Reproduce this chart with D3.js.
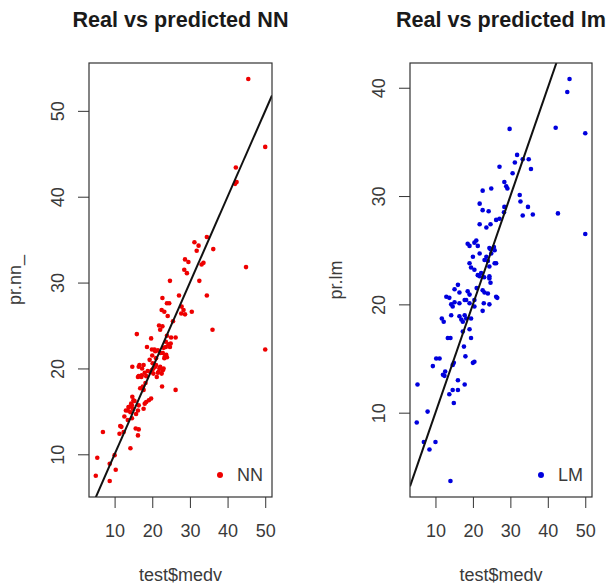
<!DOCTYPE html>
<html>
<head>
<meta charset="utf-8">
<script src="https://cdn.jsdelivr.net/npm/d3@7"></script>
<style>
  html, body { margin: 0; padding: 0; background: #fff; }
  svg { display: block; font-family: "Liberation Sans", Arial, sans-serif; }
</style>
</head>
<body>
<svg id="chart" width="609" height="587"></svg>
<script>
// ---- Data ----
const xTicks = [10, 20, 30, 40, 50];
const nnYTicks = [10, 20, 30, 40, 50];
const lmYTicks = [10, 20, 30, 40];

// Panel 1: test$medv vs pr.nn_
const nnActual = [45.5,50.0,42.2,42.4,42.0,34.5,31.2,32.3,36.2,31.8,28.7,29.6,33.1,33.6,28.5,29.2,44.9,24.7,32.5,34.5,
  27.1,22.7,23.9,24.5,22.5,23.2,27.8,28.3,27.7,28.7,30.5,24.1,21.8,22.1,22.7,36.0,15.9,19.7,26.2,25.0,
  23.9,23.6,24.7,23.6,24.9,18.6,50.0,20.6,21.5,22.8,23.7,23.9,23.2,19.9,20.8,22.1,23.0,24.3,23.4,19.3,
  20.1,21.0,21.9,20.3,19.7,18.8,21.5,22.8,19.9,20.8,21.7,22.1,20.3,21.2,23.0,22.5,19.5,14.7,16.6,17.3,
  16.4,17.7,16.2,17.1,18.4,16.4,17.2,17.5,18.2,17.7,16.8,22.6,26.2,19.7,19.1,18.4,14.7,15.3,14.4,13.8,
  13.5,14.8,16.2,15.7,18.0,17.7,15.0,16.4,12.6,13.5,14.6,13.0,13.7,14.6,14.2,11.8,12.4,11.3,11.5,6.9,
  15.6,16.2,16.4,14.2,5.4,8.7,10.3,5.0,8.7,10.0,21.0,18.0,20.0,25.5];
const nnPred = [53.7,45.8,43.4,41.7,41.5,35.3,34.7,34.3,33.9,33.7,32.7,32.4,32.1,32.3,31.5,31.1,31.8,30.2,30.2,28.5,
  28.5,28.2,27.6,27.6,26.8,26.6,27.2,26.8,26.4,26.3,26.6,26.1,25.0,24.5,24.9,24.5,24.0,23.5,23.6,23.6,
  23.8,23.1,22.5,22.5,22.9,22.5,22.2,22.2,22.1,21.8,21.6,21.3,21.2,22.2,22.0,21.8,22.4,22.8,21.4,21.0,
  20.6,20.4,20.0,20.0,19.6,19.7,19.5,19.8,19.8,20.2,19.6,20.2,19.4,19.0,20.0,19.4,19.6,20.2,20.4,20.0,
  20.2,20.4,19.0,19.0,19.1,19.1,19.2,17.9,18.3,17.5,17.7,17.9,17.5,16.5,16.3,16.1,16.7,16.2,15.9,15.5,
  15.1,15.3,15.1,14.7,15.9,15.3,16.3,15.7,14.4,14.0,14.2,15.1,15.5,15.7,14.9,13.2,12.6,12.4,13.3,12.6,
  13.0,12.2,12.9,10.7,9.6,8.9,8.2,7.5,6.9,9.9,21.2,19.5,21.5,25.5];

// Panel 2: test$medv vs pr.lm
const lmActual = [45.8,45.2,29.8,42.1,50.0,31.8,33.3,31.2,30.6,27.1,35.5,34.9,28.4,28.9,29.2,22.6,24.9,32.5,32.7,34.7,
  36.0,33.3,42.7,21.8,22.6,24.2,28.4,28.3,27.1,26.2,21.8,23.6,24.7,50.0,18.6,20.9,21.3,24.4,25.6,20.4,
  19.1,24.7,25.8,24.9,21.8,20.0,23.6,23.1,24.0,25.8,24.4,19.1,19.5,20.4,21.3,21.8,22.2,24.4,24.7,26.2,
  24.4,16.0,15.1,16.4,18.6,19.1,22.6,23.1,24.0,12.9,13.7,15.1,16.4,18.2,19.1,20.4,24.4,26.2,26.5,17.8,
  20.4,22.9,14.2,14.6,11.7,12.2,14.2,16.4,16.9,17.3,19.5,22.6,17.8,18.2,13.3,14.0,17.3,19.1,19.5,17.6,
  18.0,10.2,11.1,9.3,14.9,14.6,20.4,20.0,12.0,12.4,16.0,17.8,5.2,13.7,14.6,14.9,16.0,7.9,5.0,6.9,
  10.0,8.4,14.0,12.6,23.0,21.0];
const lmPred = [40.8,39.6,36.2,36.3,35.8,33.8,33.4,33.1,32.1,32.7,32.5,33.4,31.3,30.9,30.7,30.5,30.7,30.1,29.5,29.0,
  28.3,28.2,28.4,29.3,28.7,28.6,29.0,28.5,27.9,27.8,27.4,27.1,27.4,26.5,25.6,25.9,25.4,25.2,25.3,25.7,
  25.4,25.1,25.0,24.7,24.7,24.4,24.4,24.1,24.0,23.8,23.5,23.8,23.4,23.2,22.7,22.6,22.9,22.4,22.0,23.8,
  22.6,21.8,21.4,21.1,21.2,20.9,21.3,21.1,21.0,20.7,20.6,20.2,20.1,20.4,20.1,19.8,20.0,20.7,20.6,20.4,
  20.4,20.1,20.0,19.8,18.7,18.4,19.0,18.9,18.6,18.4,18.7,19.4,19.0,18.7,16.9,16.9,17.5,17.7,16.9,16.1,
  15.2,15.0,15.0,14.3,14.6,14.4,14.7,14.6,13.5,13.4,13.0,12.6,12.6,11.7,12.1,10.9,12.1,10.1,9.1,7.3,
  7.3,6.6,3.7,13.8,22.5,21.5];

const panels = [
  { title: "Real vs predicted NN", xs: nnActual, ys: nnPred, yLabel: "pr.nn_", yTicks: nnYTicks,
    color: "#ee0000", legend: "NN", left: 89, right: 272 },
  { title: "Real vs predicted lm", xs: lmActual, ys: lmPred, yLabel: "pr.lm", yTicks: lmYTicks,
    color: "#0000dd", legend: "LM", left: 410, right: 592 }
];

const plotTop = 63, plotBottom = 497;
const textColor = "#3a3a3a";
const svg = d3.select("#chart");

function padded(ext) {
  const r = ext[1] - ext[0];
  return [ext[0] - 0.04 * r, ext[1] + 0.04 * r];
}

panels.forEach((p, i) => {
  const x = d3.scaleLinear().domain(padded(d3.extent(p.xs))).range([p.left, p.right]);
  const y = d3.scaleLinear().domain(padded(d3.extent(p.ys))).range([plotBottom, plotTop]);
  const g = svg.append("g");

  const clipId = "clip" + i;
  svg.append("clipPath").attr("id", clipId)
    .append("rect").attr("x", p.left).attr("y", plotTop)
    .attr("width", p.right - p.left).attr("height", plotBottom - plotTop);

  // Title
  g.append("text").attr("x", (p.left + p.right) / 2).attr("y", 27)
    .attr("text-anchor", "middle").attr("font-weight", "bold")
    .attr("font-size", 21.6).attr("fill", "#1a1a1a").text(p.title);

  // Points
  const pts = p.xs.map((v, k) => [v, p.ys[k]]);
  g.append("g").attr("clip-path", `url(#${clipId})`)
    .selectAll("circle").data(pts).join("circle")
    .attr("cx", d => x(d[0])).attr("cy", d => y(d[1]))
    .attr("r", 2.3).attr("fill", p.color);

  // abline(0,1)
  const xd = x.domain();
  g.append("line").attr("clip-path", `url(#${clipId})`)
    .attr("x1", x(xd[0])).attr("y1", y(xd[0]))
    .attr("x2", x(xd[1])).attr("y2", y(xd[1]))
    .attr("stroke", "#111").attr("stroke-width", 2);

  // Box
  g.append("rect").attr("x", p.left).attr("y", plotTop)
    .attr("width", p.right - p.left).attr("height", plotBottom - plotTop)
    .attr("fill", "none").attr("stroke", "#333").attr("stroke-width", 1.2);

  // X axis
  const xAxis = g.append("g").attr("transform", `translate(0,${plotBottom})`)
    .call(d3.axisBottom(x).tickValues(xTicks).tickSize(11).tickPadding(0).tickFormat(d3.format("d")));
  xAxis.select(".domain").remove();
  xAxis.selectAll(".tick line").attr("stroke", "#333");
  xAxis.selectAll(".tick text").attr("y", 40).attr("dy", 0)
    .attr("font-size", 18).attr("font-family", "Liberation Sans, Arial, sans-serif").attr("fill", textColor);

  // Y axis
  const yAxis = g.append("g").attr("transform", `translate(${p.left},0)`)
    .call(d3.axisLeft(y).tickValues(p.yTicks).tickSize(11).tickFormat(d3.format("d")));
  yAxis.select(".domain").remove();
  yAxis.selectAll(".tick line").attr("stroke", "#333");
  yAxis.selectAll(".tick text")
    .attr("x", 0).attr("dy", 0).attr("text-anchor", "middle")
    .attr("transform", "translate(-25,0) rotate(-90)")
    .attr("font-size", 18).attr("font-family", "Liberation Sans, Arial, sans-serif").attr("fill", textColor);

  // Axis titles
  g.append("text").attr("x", (p.left + p.right) / 2).attr("y", 581)
    .attr("text-anchor", "middle").attr("font-size", 18).attr("fill", textColor).text("test$medv");
  g.append("text").attr("transform", `translate(${p.left - 68},${(plotTop + plotBottom) / 2}) rotate(-90)`)
    .attr("text-anchor", "middle").attr("font-size", 18).attr("fill", textColor).text(p.yLabel);

  // Legend (bottomright, no box)
  const lt = g.append("text").attr("x", p.right - 9).attr("y", plotBottom - 22).attr("dy", "0.35em")
    .attr("text-anchor", "end").attr("font-size", 18).attr("fill", textColor).text(p.legend);
  const tw = lt.node().getComputedTextLength();
  g.append("circle").attr("cx", p.right - 9 - tw - 17).attr("cy", plotBottom - 22)
    .attr("r", 3).attr("fill", p.color);
});
</script>
</body>
</html>
